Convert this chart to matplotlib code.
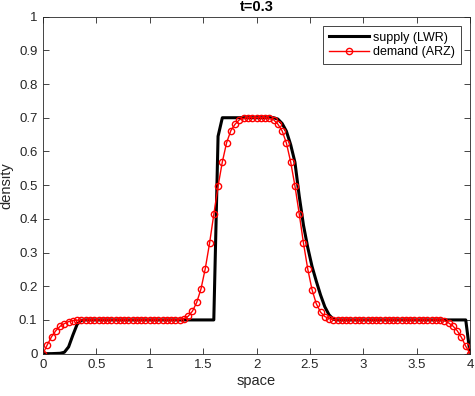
import numpy as np
from matplotlib import pyplot as plt

plt.rcParams['font.family'] = ['Liberation Sans', 'DejaVu Sans']

# grid 0..4, 101 points (dx = 0.04)
space = np.linspace(0, 4, 101)

supply_lwr = (
    [0, 0, 0, 0.0005, 0.001, 0.004, 0.02, 0.055, 0.087, 0.099]
    + [0.1] * 31
    + [0.645]
    + [0.7] * 13
    + [0.696, 0.683, 0.66, 0.62, 0.568, 0.468, 0.381, 0.315, 0.259,
       0.215, 0.174, 0.139, 0.115, 0.102]
    + [0.1] * 31
    + [0]
)

demand_arz = (
    [0, 0.026, 0.05, 0.068, 0.081, 0.089, 0.095, 0.098, 0.099]
    + [0.1] * 23
    + [0.101, 0.104, 0.111, 0.126, 0.152, 0.192, 0.252, 0.327, 0.413,
       0.497, 0.569, 0.626, 0.662, 0.681, 0.694, 0.698]
    + [0.7] * 5
    + [0.698, 0.694, 0.681, 0.661, 0.625, 0.569, 0.498, 0.415, 0.328,
       0.251, 0.19, 0.148, 0.123, 0.11, 0.104, 0.101]
    + [0.1] * 25
    + [0.098, 0.091, 0.082, 0.068, 0.048, 0.022, 0]
)

xticks = [0, 0.5, 1, 1.5, 2, 2.5, 3, 3.5, 4]
xtick_labels = ['0', '0.5', '1', '1.5', '2', '2.5', '3', '3.5', '4']
yticks = [0, 0.1, 0.2, 0.3, 0.4, 0.5, 0.6, 0.7, 0.8, 0.9, 1]
ytick_labels = ['0', '0.1', '0.2', '0.3', '0.4', '0.5', '0.6', '0.7', '0.8', '0.9', '1']

axcol = (0.15, 0.15, 0.15)

fig = plt.figure(figsize=(4.75, 3.96), dpi=100)
ax = fig.add_axes([0.0905, 0.107, 0.899, 0.851])

ax.plot(space, supply_lwr, color='k', lw=2.2, label='supply (LWR)')
ax.plot(space, demand_arz, color='r', lw=1, marker='o', markersize=4.5,
        markerfacecolor='none', markeredgewidth=1, label='demand (ARZ)')

ax.set_xlim(0, 4)
ax.set_ylim(0, 1)
ax.set_xticks(xticks)
ax.set_xticklabels(xtick_labels)
ax.set_yticks(yticks)
ax.set_yticklabels(ytick_labels)
ax.tick_params(direction='in', top=True, right=True, length=4, width=0.6,
               colors=axcol, labelsize=9.5, labelcolor=axcol, pad=4)
for s in ax.spines.values():
    s.set_color(axcol)
    s.set_linewidth(0.6)

ax.set_xlabel('space', fontsize=10.5, color=axcol, labelpad=2)
ax.set_ylabel('density', fontsize=10.5, color=axcol, labelpad=4)
ax.set_title('t=0.3', fontsize=10.5, fontweight='bold', pad=4)

leg = ax.legend(loc='upper right', handlelength=3.2, fancybox=False,
                edgecolor=axcol, framealpha=1, borderaxespad=0.75,
                prop={'size': 9}, numpoints=1, borderpad=0.45,
                labelspacing=0.2, handletextpad=0.35)
leg.get_frame().set_linewidth(0.6)

fig.savefig('out.png', dpi=100)
